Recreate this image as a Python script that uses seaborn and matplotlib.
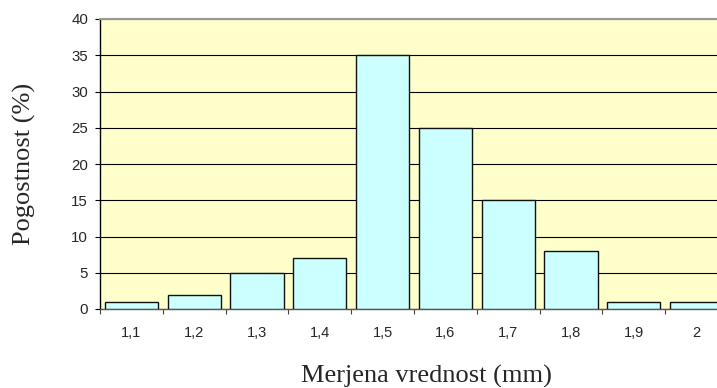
import matplotlib
matplotlib.use("Agg")
import matplotlib.pyplot as plt
import seaborn as sns
import pandas as pd
import numpy as np

categories = ["1,1", "1,2", "1,3", "1,4", "1,5", "1,6", "1,7", "1,8", "1,9", "2"]
values = [1, 2, 5, 7, 35, 25, 15, 8, 1, 1]
yticks = [0, 5, 10, 15, 20, 25, 30, 35, 40]

sns.set_theme(style="white")
plt.rcParams['font.family'] = ['Liberation Sans', 'DejaVu Sans']

df = pd.DataFrame({"cat": categories, "val": values})

fig = plt.figure(figsize=(7.17, 3.88), dpi=100)
W, H = 717, 388
left, right, top, bottom = 100, 728, 19, 309
ax = fig.add_axes([left / W, 1 - bottom / H, (right - left) / W, (bottom - top) / H])
ax.set_facecolor("#FFFFCC")

sns.barplot(data=df, x="cat", y="val", ax=ax, color="#CCFFFF", width=0.845,
            edgecolor="#111111", linewidth=1.0, saturation=1, zorder=3)

ax.set_xlim(-0.5, len(categories) - 0.5)
ax.set_ylim(0, 40)
ax.set_yticks(yticks)
ax.set_yticklabels([str(t) for t in yticks], fontsize=10.8)
ax.yaxis.grid(True, color="black", linewidth=0.8, zorder=1)
ax.set_axisbelow(True)

# x ticks: labels at category centers, tick marks at boundaries
ax.set_xticks(range(len(categories)))
ax.set_xticklabels(categories, fontsize=10.5)
ax.tick_params(axis="x", length=0, pad=12)
ax.set_xticks(np.arange(-0.5, len(categories)), minor=True)
ax.tick_params(axis="x", which="minor", length=3.6, width=0.8, color="#444444", direction="out", bottom=True)
ax.tick_params(axis="y", length=3.6, width=0.8, color="black", direction="out", left=True, pad=5)

ax.spines["left"].set_color("black")
ax.spines["left"].set_linewidth(1.0)
ax.spines["bottom"].set_color("#555555")
ax.spines["bottom"].set_linewidth(1.0)
ax.spines["top"].set_color("#999999")
ax.spines["top"].set_linewidth(1.5)
ax.spines["right"].set_visible(False)

ax.set_xlabel("")
ax.set_ylabel("")
serif = ["Liberation Serif", "DejaVu Serif"]
fig.text(426 / W, 1 - 383 / H, "Merjena vrednost (mm)", fontsize=19, family=serif,
         ha="center", va="baseline")
fig.text(24 / W, 1 - 164 / H, "Pogostnost (%)", fontsize=19, family=serif,
         ha="center", va="center", rotation=90)

fig.savefig("out.png", dpi=100)
